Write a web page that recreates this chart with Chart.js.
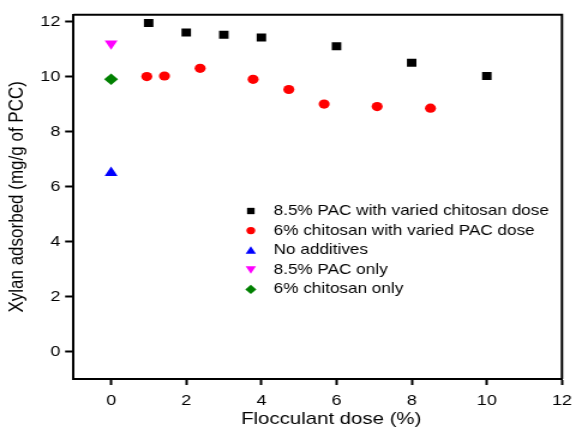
<!DOCTYPE html>
<html>
<head>
<meta charset="utf-8">
<script src="https://cdn.jsdelivr.net/npm/chart.js@4.4.1/dist/chart.umd.min.js"></script>
<style>
  html, body { margin: 0; padding: 0; background: #fff; overflow: hidden; }
  /* the reference is stretched sideways, so the canvas is too */
  #wrap { width: 478px; height: 432px; transform: scaleX(1.2); transform-origin: 0 0; }
</style>
</head>
<body>
<div id="wrap"><canvas id="chart" width="478" height="432"></canvas></div>
<script>
/* ── Data ── */
const pacDose        = [1, 2, 3, 4, 6, 8, 10];
const pacXylan       = [11.95, 11.6, 11.52, 11.42, 11.1, 10.5, 10.02];
const chitoDose      = [0.95, 1.42, 2.37, 3.78, 4.73, 5.67, 7.08, 8.5];
const chitoXylan     = [10.0, 10.02, 10.3, 9.9, 9.53, 9.0, 8.91, 8.85];
const noneDose       = [0];
const noneXylan      = [6.5];
const pacOnlyDose    = [0];
const pacOnlyXylan   = [11.2];
const chitoOnlyDose  = [0];
const chitoOnlyXylan = [9.9];

const seriesLabels = [
  "8.5% PAC with varied chitosan dose",
  "6% chitosan with varied PAC dose",
  "No additives",
  "8.5% PAC only",
  "6% chitosan only",
];
const xTicks = [0, 2, 4, 6, 8, 10, 12];
const yTicks = [0, 2, 4, 6, 8, 10, 12];
const xTitle = "Flocculant dose (%)";
const yTitle = "Xylan adsorbed (mg/g of PCC)";

const FONT = "'Liberation Sans', Arial, sans-serif";

function toPoints(xs, ys) {
  return xs.map((x, i) => ({ x, y: ys[i] }));
}

/* ── Dataset styles ── */
const styles = [
  { color: "#000000", pointStyle: "rect",     radius: 5.6, rotation: 0 },
  { color: "#ff0000", pointStyle: "circle",   radius: 4.6, rotation: 0 },
  { color: "#0000ff", pointStyle: "triangle", radius: 6.2, rotation: 0 },
  { color: "#ff00ff", pointStyle: "triangle", radius: 6.2, rotation: 180 },
  { color: "#008000", pointStyle: "rectRot",  radius: 5.8, rotation: 0 },
];

const seriesData = [
  toPoints(pacDose, pacXylan),
  toPoints(chitoDose, chitoXylan),
  toPoints(noneDose, noneXylan),
  toPoints(pacOnlyDose, pacOnlyXylan),
  toPoints(chitoOnlyDose, chitoOnlyXylan),
];

const datasets = seriesData.map((data, i) => ({
  label:            seriesLabels[i],
  data,
  pointStyle:       styles[i].pointStyle,
  pointRadius:      styles[i].radius,
  pointRotation:    styles[i].rotation,
  backgroundColor:  styles[i].color,
  borderColor:      styles[i].color,
  borderWidth:      0,
  pointBorderWidth: 0,
  showLine:         false,
}));

/* ── Plugins: box frame, x title, legend inside the plot ── */
const framePlugin = {
  id: "frame",
  afterDraw(chart) {
    const { ctx, chartArea: a } = chart;
    ctx.save();
    ctx.strokeStyle = "#000";
    ctx.lineWidth = 2;
    ctx.beginPath();
    ctx.moveTo(a.left, a.top);
    ctx.lineTo(a.right, a.top);
    ctx.lineTo(a.right, a.bottom);
    ctx.stroke();
    ctx.restore();
  },
};

// x title sits a little right of the plot centre in the original
const xTitlePlugin = {
  id: "xTitle",
  afterDraw(chart) {
    const ctx = chart.ctx;
    ctx.save();
    ctx.font = "17px " + FONT;
    ctx.fillStyle = "#000";
    ctx.textAlign = "center";
    ctx.textBaseline = "middle";
    ctx.fillText(xTitle, 276, 419.5);
    ctx.restore();
  },
};

const legendPlugin = {
  id: "insideLegend",
  afterDraw(chart) {
    const ctx = chart.ctx;
    const markX = 209, textX = 228, firstY = 211, rowGap = 19.6;
    ctx.save();
    ctx.font = "14.3px " + FONT;
    ctx.textBaseline = "middle";
    ctx.textAlign = "left";
    styles.forEach((s, i) => {
      const y = firstY + i * rowGap;
      ctx.fillStyle = s.color;
      ctx.strokeStyle = s.color;
      Chart.helpers.drawPoint(ctx, {
        pointStyle: s.pointStyle,
        radius: s.radius * 0.8,
        rotation: s.rotation,
        borderWidth: 0,
      }, markX, y + (s.pointStyle === "triangle" ? (s.rotation ? -1 : 1) : 0));
      ctx.fillStyle = "#000";
      ctx.fillText(seriesLabels[i], textX, y);
    });
    ctx.restore();
  },
};

/* ── Chart ── */
new Chart(document.getElementById("chart"), {
  type: "scatter",
  data: { datasets },
  plugins: [framePlugin, xTitlePlugin, legendPlugin],
  options: {
    responsive: false,
    animation: false,
    devicePixelRatio: 1,
    layout: { padding: { top: 14.7, right: 9.7, left: 0, bottom: 0 } },
    plugins: {
      legend:  { display: false },
      tooltip: { enabled: false },
    },
    scales: {
      x: {
        type: "linear",
        min: -1,
        max: 12,
        afterBuildTicks: s => { s.ticks = xTicks.map(v => ({ value: v })); },
        afterFit: s => { s.height = 53; s.paddingLeft = 0; s.paddingRight = 0; },
        ticks: { color: "#000", font: { family: FONT, size: 15 }, padding: 7 },
        grid: {
          drawOnChartArea: false,
          drawTicks: true,
          tickLength: 6,
          tickWidth: 2,
          tickColor: "#000",
        },
        border: { color: "#000", width: 2 },
        title: { display: false },
      },
      y: {
        type: "linear",
        min: -1,
        max: 12.25,
        afterBuildTicks: s => { s.ticks = yTicks.map(v => ({ value: v })); },
        afterFit: s => { s.width = 61.25; s.paddingTop = 0; s.paddingBottom = 0; },
        ticks: { color: "#000", font: { family: FONT, size: 15 }, padding: 4 },
        grid: {
          drawOnChartArea: false,
          drawTicks: true,
          tickLength: 7,
          tickWidth: 2,
          tickColor: "#000",
        },
        border: { color: "#000", width: 2 },
        title: {
          display: true,
          text: yTitle,
          color: "#000",
          font: { family: FONT, size: 17 },
          padding: { top: 4, bottom: 0 },
        },
      },
    },
  },
});
</script>
</body>
</html>
